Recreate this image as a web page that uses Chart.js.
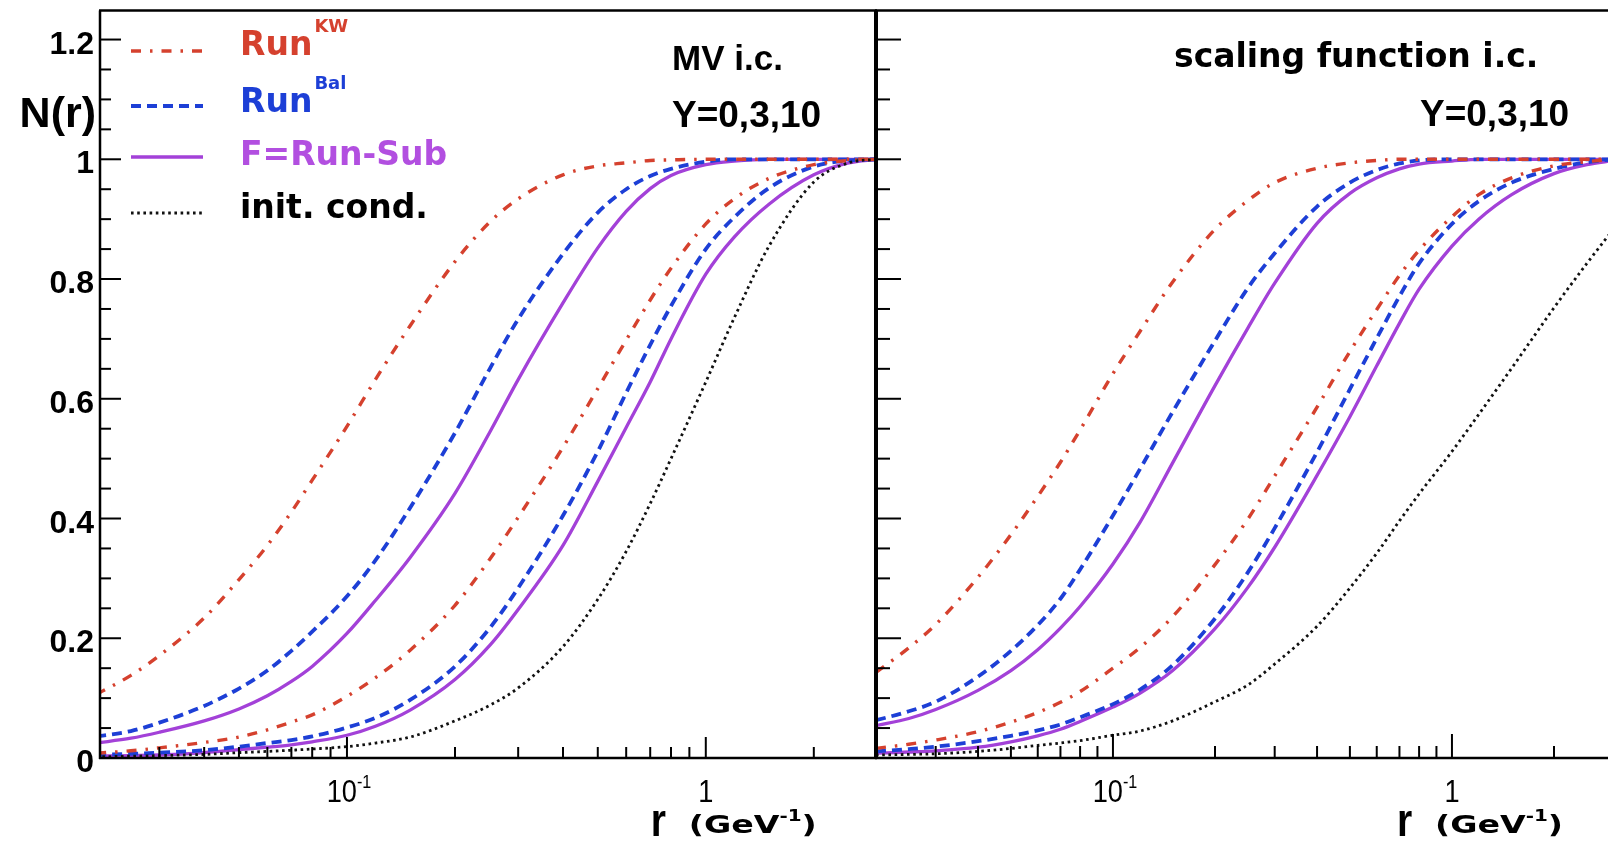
<!DOCTYPE html>
<html><head><meta charset="utf-8">
<script src="https://cdn.jsdelivr.net/npm/chart.js@4.4.1/dist/chart.umd.min.js"></script>
<style>
html,body{margin:0;padding:0;background:#fff;overflow:hidden;width:1608px;height:843px;}
#wrap{position:relative;width:1608px;height:843px;overflow:hidden;background:#fff;}
canvas{position:absolute;top:0;}
#cL{left:0;} #cR{left:860px;}
</style></head><body>
<div id="wrap"><canvas id="cL" width="877" height="843"></canvas><canvas id="cR" width="760" height="843"></canvas></div>
<script>
// ---------- data (r in GeV^-1, N(r)) ----------
const rGrid = [0.02,0.025,0.03,0.04,0.05,0.06,0.07,0.08,0.1,0.12,0.15,0.2,0.25,0.3,0.4,0.5,0.6,0.7,0.8,1.0,1.2,1.5,2.0,2.5,3.0];

// left panel: MV initial condition
const mvKW_Y10  = [0.106,0.138,0.171,0.234,0.298,0.355,0.411,0.464,0.554,0.632,0.722,0.829,0.895,0.934,0.974,0.989,0.994,0.998,0.999,1,1,1,1,1,1];
const mvBal_Y10 = [0.036,0.045,0.059,0.087,0.116,0.146,0.179,0.211,0.270,0.330,0.418,0.543,0.650,0.733,0.842,0.911,0.950,0.972,0.984,0.996,1,1,1,1,1];
const mvSub_Y10 = [0.025,0.033,0.043,0.062,0.082,0.104,0.128,0.153,0.208,0.263,0.335,0.442,0.544,0.632,0.760,0.852,0.913,0.951,0.973,0.991,0.997,1,1,1,1];
const mvKW_Y3   = [0.008,0.012,0.017,0.026,0.035,0.047,0.060,0.072,0.103,0.134,0.180,0.255,0.332,0.402,0.519,0.617,0.698,0.765,0.818,0.892,0.934,0.968,0.991,0.998,1];
const mvBal_Y3  = [0.005,0.007,0.009,0.013,0.019,0.025,0.030,0.036,0.051,0.067,0.097,0.153,0.217,0.284,0.405,0.512,0.610,0.690,0.755,0.850,0.903,0.952,0.988,0.998,1];
const mvSub_Y3  = [0.003,0.004,0.005,0.009,0.014,0.018,0.022,0.027,0.038,0.053,0.080,0.131,0.188,0.248,0.355,0.462,0.552,0.628,0.700,0.808,0.870,0.925,0.974,0.994,1];
const mvInit    = [0.002,0.003,0.004,0.006,0.009,0.011,0.013,0.015,0.019,0.025,0.035,0.062,0.088,0.117,0.186,0.265,0.345,0.425,0.500,0.628,0.735,0.855,0.962,0.994,1];

// right panel: scaling function initial condition
const sfKW_Y10  = [0.143,0.184,0.223,0.302,0.373,0.437,0.494,0.548,0.642,0.712,0.795,0.883,0.931,0.961,0.985,0.994,0.998,1,1,1,1,1,1,1,1];
const sfBal_Y10 = [0.063,0.078,0.094,0.136,0.179,0.222,0.266,0.315,0.405,0.482,0.578,0.697,0.785,0.843,0.921,0.961,0.982,0.993,0.998,1,1,1,1,1,1];
const sfSub_Y10 = [0.054,0.066,0.081,0.113,0.146,0.181,0.217,0.253,0.324,0.393,0.493,0.622,0.718,0.793,0.893,0.943,0.969,0.984,0.992,0.997,1,1,1,1,1];
const sfKW_Y3   = [0.016,0.023,0.030,0.044,0.060,0.076,0.093,0.111,0.150,0.184,0.236,0.323,0.399,0.471,0.586,0.679,0.749,0.806,0.848,0.904,0.941,0.969,0.989,0.996,1];
const sfBal_Y3  = [0.011,0.015,0.019,0.028,0.037,0.046,0.056,0.068,0.090,0.114,0.155,0.233,0.310,0.384,0.511,0.616,0.701,0.771,0.826,0.892,0.930,0.961,0.984,0.995,1];
const sfSub_Y3  = [0.008,0.010,0.012,0.018,0.027,0.037,0.048,0.061,0.085,0.108,0.146,0.216,0.285,0.352,0.472,0.570,0.655,0.726,0.783,0.855,0.900,0.941,0.976,0.991,0.998];
const sfInit    = [0.005,0.006,0.007,0.011,0.016,0.021,0.025,0.029,0.038,0.045,0.062,0.094,0.122,0.157,0.220,0.284,0.342,0.396,0.441,0.512,0.574,0.651,0.752,0.826,0.884];

// ticks / labels
const yTickValues = [0,0.2,0.4,0.6,0.8,1.0,1.2];
const yTickLabels = ['0','0.2','0.4','0.6','0.8','1','1.2'];
const xTickValues = [0.1,1];
const xTickBase   = ['10','1'];
const xTickExp    = ['-1',''];
const legendNames = ['Run','Run','F=Run-Sub','init. cond.'];
const legendSups  = ['KW','Bal','',''];
const panelTitles = ['MV i.c.','scaling function i.c.'];
const panelSub    = 'Y=0,3,10';

// ---------- styles ----------
const RED='#d5412e', BLUE='#1d3fd6', PURPLE='#a341d8', BLACK='#111111';
const TXT_PURPLE='#b24fe0';
const sty = {
  kw:  {color:RED,    width:3.4, dash:[10,9,2.5,9]},
  bal: {color:BLUE,   width:3.8, dash:[10,6]},
  sub: {color:PURPLE, width:3.3, dash:[]},
  ini: {color:BLACK,  width:2.8, dash:[2.6,3.6]}
};
function ds(arr, s){
  return {data: rGrid.map((r,i)=>({x:r,y:arr[i]})), borderColor:s.color, borderWidth:s.width,
    borderDash:s.dash, pointRadius:0, fill:false, cubicInterpolationMode:'monotone'};
}

function drawRuns(ctx, x, y, runs, sx){
  ctx.save(); ctx.translate(x,y); ctx.scale(sx||1,1);
  ctx.textAlign='left'; ctx.textBaseline='alphabetic';
  let cx=0;
  for(const r of runs){ ctx.font=r.font; ctx.fillStyle=r.color||'#000'; ctx.fillText(r.t,cx,r.dy||0); cx+=ctx.measureText(r.t).width+(r.gap||0); }
  ctx.restore();
}
function runsWidth(ctx, runs){ let w=0; ctx.save(); for(const r of runs){ ctx.font=r.font; w+=ctx.measureText(r.t).width+(r.gap||0);} ctx.restore(); return w; }
function seg(ctx,x1,y1,x2,y2){ ctx.beginPath(); ctx.moveTo(x1,y1); ctx.lineTo(x2,y2); ctx.stroke(); }

const frame = {
  id:'frame',
  afterDraw(chart, args, o){
    const ctx=chart.ctx, ca=chart.chartArea, xs=chart.scales.x, ys=chart.scales.y;
    const off=o.offset;
    ctx.save();
    ctx.strokeStyle='#000'; ctx.setLineDash([]);
    // frame
    ctx.lineWidth=2.5;
    seg(ctx, ca.left-1, ca.top, chart.width, ca.top);
    seg(ctx, ca.left-1, ca.bottom, chart.width, ca.bottom);
    ctx.lineWidth=o.left?2.5:4;
    seg(ctx, ca.left, ca.top, ca.left, ca.bottom+1);
    // x ticks (log)
    ctx.lineWidth=2;
    for(let k=-2;k<=0;k++) for(let m=1;m<=9;m++){
      const v=m*Math.pow(10,k); if(v<xs.min||v>xs.max) continue;
      const px=xs.getPixelForValue(v); if(px<ca.left+3||px>ca.right-2) continue;
      seg(ctx,px,ca.bottom,px,ca.bottom-(m===1?o.majX:o.minX));
    }
    // y ticks
    for(let i=0;i*0.05<=ys.max+1e-9;i++){
      const py=ys.getPixelForValue(i*0.05);
      seg(ctx,ca.left,py,ca.left+(i%4===0?o.majY:o.minY),py);
    }
    // x tick labels
    xTickValues.forEach((v,i)=>{
      const runs=[{t:xTickBase[i],font:'32px "Liberation Sans"'}];
      if(xTickExp[i]) runs.push({t:xTickExp[i],font:'19px "Liberation Sans"',dy:-14});
      const sx=0.85, w=runsWidth(ctx,runs)*sx, px=xs.getPixelForValue(v);
      drawRuns(ctx, px-w/2+(xTickExp[i]?2:0), 802, runs, sx);
    });
    // axis title r (GeV^-1)
    const p1=xs.getPixelForValue(1);
    drawRuns(ctx, p1-55, 836, [{t:'r',font:'bold 46px "Liberation Sans"'}], 0.85);
    const g=[{t:'(GeV',font:'bold 25px "DejaVu Sans"'},{t:'-1',font:'bold 15px "DejaVu Sans"',dy:-12},{t:')',font:'bold 25px "DejaVu Sans"'}];
    drawRuns(ctx, p1-17, 833, g, 128/runsWidth(ctx,g));
    if(o.left){
      // y tick labels
      ctx.fillStyle='#000'; ctx.textAlign='right'; ctx.textBaseline='alphabetic';
      ctx.font='bold 32px "Liberation Sans"';
      yTickValues.forEach((v,i)=>{ ctx.fillText(yTickLabels[i], ca.left-6, ys.getPixelForValue(v)+14); });
      ctx.font='bold 43px "Liberation Sans"';
      ctx.fillText('N(r)', 96, 127);
      // legend
      const keys=['kw','bal','sub','ini'], lineY=[51,106,157,213], base=[55,112,165,218];
      const tcol=[RED,BLUE,TXT_PURPLE,'#000'];
      keys.forEach((k,i)=>{
        const s=sty[k]; ctx.strokeStyle=s.color; ctx.lineWidth=s.width; ctx.setLineDash(s.dash);
        seg(ctx,131,lineY[i],203,lineY[i]);
        const runs=[{t:legendNames[i],font:'bold 33px "DejaVu Sans"',color:tcol[i],gap:2}];
        if(legendSups[i]) runs.push({t:legendSups[i],font:'bold 18px "DejaVu Sans"',color:tcol[i],dy:-23});
        drawRuns(ctx,240,base[i],runs,1);
      });
      ctx.setLineDash([]);
      drawRuns(ctx, 672, 70, [{t:panelTitles[0],font:'bold 35px "Liberation Sans"'}], 1);
      drawRuns(ctx, 672, 127, [{t:panelSub,font:'bold 37px "Liberation Sans"'}], 1);
    } else {
      drawRuns(ctx, 1174-off, 67, [{t:panelTitles[1],font:'bold 33px "DejaVu Sans"'}], 1);
      drawRuns(ctx, 1420-off, 126, [{t:panelSub,font:'bold 37px "Liberation Sans"'}], 1);
    }
    ctx.restore();
  }
};

function opts(xmin, padL, padR, fo){
  return {
    responsive:false, animation:false, devicePixelRatio:1,
    layout:{padding:{left:padL,right:padR,top:10.5,bottom:85}},
    plugins:{legend:{display:false}, tooltip:{enabled:false}, title:{display:false}, frame:fo},
    scales:{
      x:{type:'logarithmic', min:xmin, max:3.0, display:false},
      y:{type:'linear', min:0, max:1.2485, display:false}
    }
  };
}

new Chart(document.getElementById('cL'), {
  type:'line',
  data:{datasets:[ds(mvInit,sty.ini), ds(mvKW_Y3,sty.kw), ds(mvKW_Y10,sty.kw), ds(mvBal_Y3,sty.bal), ds(mvBal_Y10,sty.bal), ds(mvSub_Y3,sty.sub), ds(mvSub_Y10,sty.sub)]},
  options:opts(0.0205, 100, 0, {left:true, offset:0, majX:21, minX:11, majY:21, minY:11}),
  plugins:[frame]
});
new Chart(document.getElementById('cR'), {
  type:'line',
  data:{datasets:[ds(sfInit,sty.ini), ds(sfKW_Y3,sty.kw), ds(sfKW_Y10,sty.kw), ds(sfBal_Y3,sty.bal), ds(sfBal_Y10,sty.bal), ds(sfSub_Y3,sty.sub), ds(sfSub_Y10,sty.sub)]},
  options:opts(0.02, 16, 6.3, {left:false, offset:860, majX:24, minX:12, majY:25, minY:14}),
  plugins:[frame]
});
</script>
</body></html>
